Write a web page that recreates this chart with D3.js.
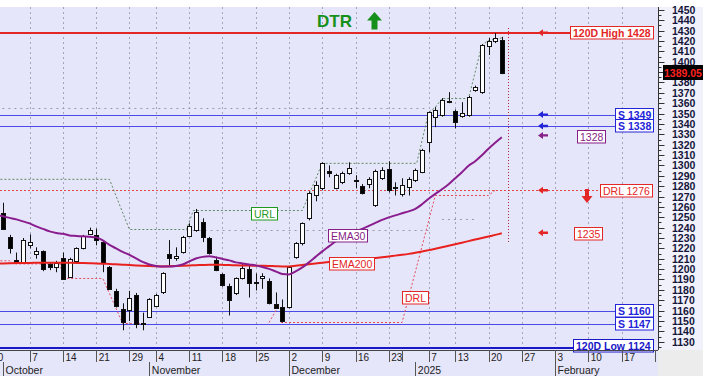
<!DOCTYPE html>
<html>
<head>
<meta charset="utf-8">
<script src="https://cdn.jsdelivr.net/npm/d3@7/dist/d3.min.js"></script>
<style>
  body { margin: 0; background: #fff; }
  svg { display: block; font-family: Arial, "Liberation Sans", sans-serif; }
</style>
</head>
<body>
<svg id="chart" width="703" height="390"></svg>
<script>
// ---- data (trading-day index, 0 = 30 Sep) ----
var candleDays = d3.range(1, 77);
var opens = [1254,1231,1209,1207,1223,1214,1217,1205,1202,1211, 1193,1207,1220,1234.5,1232.5,1226,1202,1179,1162,1160,
  1175.5,1147.5,1154,1165,1177.5,1215,1211,1216,1232.5,1237.3, 1245,1229.6,1208.4,1195,1184,1176.5,1191,1199.7,1188,1191,
  1189,1166.8,1163,1163,1211,1224.8,1248.9,1271,1278,1294.4, 1278,1283.7,1292.5,1284.7,1279.9,1281.8,1261.5,1287.6,1296.3,1279,
  1272,1279,1285.7,1293.4,1322.4,1346.6,1348.5,1361,1352.3,1347.5, 1348.5,1372.6,1370.7,1415.1,1420,1421];
var highs = [1264,1233,1216,1230,1233.5,1221,1218,1206.5,1208,1216, 1211,1221,1233,1240,1239,1228,1203,1181,1167,1179,
  1177,1158,1172,1176,1197,1228,1221,1232,1244,1258, 1249,1231,1212,1196,1186,1192,1205.5,1203.6,1195.8,1196,
  1191,1177.5,1170.7,1203,1226,1245,1275,1284.7,1303,1300, 1292,1294,1303,1290.5,1282,1288.6,1296,1298.2,1304,1283.7,
  1287.6,1288.6,1297,1316,1352,1356.2,1364.9,1370.7,1354,1361, 1367,1377,1417,1422.9,1427.7,1424];
var lows = [1238,1215,1206,1206,1220,1210,1198,1199,1197,1190, 1192,1206,1219,1233,1223,1197,1180,1163,1141,1150,
  1143,1141,1153,1164,1176,1203.5,1208,1215,1231,1236, 1226,1214,1198,1183,1155.3,1175,1190,1172.6,1179.4,1181,
  1166,1162,1148.5,1162,1210,1222.9,1247,1265.4,1276,1288.6, 1277,1282,1291,1278,1272,1278,1260,1286,1274,1271,
  1270,1271,1284,1292.5,1312.7,1336.9,1347,1360,1335.9,1346, 1347,1371,1369,1406.5,1418,1388];
var closes = [1239,1220,1207,1228,1226,1217,1200,1202,1206,1191, 1210,1220,1232,1238,1228,1205.6,1181,1165,1149.5,1172,
  1147.5,1148.5,1171,1175.5,1196,1211,1213,1230.6,1242,1254.8, 1230.6,1215,1198.7,1184,1170.7,1191,1200.7,1186,1187,1193,
  1167.8,1163,1149.5,1201.6,1224.8,1244.2,1273.1,1280.8,1302.1,1292.5, 1290.5,1292.5,1297.3,1285.7,1273.1,1286.6,1294.4,1295.3,1276,1278,
  1280.8,1286.6,1295.3,1314.7,1351.4,1353.3,1363,1362,1341.7,1350.4, 1365.9,1375.5,1416.1,1420,1422.9,1389.05];

// EMA lines, index 0..76
var ema30 = [1252.3,1250.9,1249.4,1248,1246,1244.1,1241.2,1238.8,1236.4,1234.9,
  1234,1232.5,1232,1231.6,1231.1,1230.6,1227.7,1223.4,1220,1216.6,
  1213.7,1210.3,1206.9,1204.5,1203.1,1202.6,1202.6,1203.1,1204.5,1207.4,
  1210.3,1211.8,1212.3,1211.3,1209.8,1208.4,1206.5,1205.5,1204.5,1203.6,
  1202.1,1200.2,1197.8,1195.3,1194.9,1197.8,1201.6,1206.5,1211.8,1217.1,
  1221.9,1226.7,1230.6,1233.5,1236.4,1238.8,1241.7,1244.6,1247.5,1249.9,
  1251.8,1253.8,1255.7,1258.1,1262.5,1267.8,1272.6,1277,1281.8,1287.6,
  1293.4,1299.7,1304,1309.8,1316.1,1321.9,1327.2];
var ema200 = [1205.5,1205.5,1205.6,1205.8,1206,1206,1206.1,1206.2,1206.2,1206.2,
  1206.2,1206.1,1206,1205.9,1205.7,1205.5,1205.2,1204.9,1204.6,1204.3,
  1204,1203.6,1203.2,1202.9,1202.7,1202.6,1202.8,1203,1203.3,1203.6,
  1203.8,1204,1204.2,1204.2,1204.1,1203.9,1203.7,1203.5,1203.4,1203.3,
  1203.2,1203,1202.8,1202.6,1202.6,1203.2,1204,1204.8,1205.5,1206.2,
  1206.8,1207.3,1207.8,1208.3,1208.8,1209.4,1210,1210.7,1211.4,1212.2,
  1213,1213.8,1214.7,1215.8,1217,1218.3,1219.6,1221,1222.5,1224,
  1225.5,1227,1228.5,1230,1231.5,1233,1234.5];

// step lines (corner points)
var urlIdx = [0, 17, 20, 28.6, 29.6, 46, 49, 63.2, 65, 66, 67, 71, 73, 74, 76];
var urlVal = [1286.6, 1286.6, 1238.2, 1238.2, 1256.5, 1256.5, 1302, 1302, 1351, 1356, 1364.5, 1364.5, 1416, 1420.5, 1423];
var drlIdx = [0, 2, 2.6, 9.6, 10, 16, 19, 22.5, null, 41, 42.3, null, 42.8, 61, 66, 74, 75];
var drlVal = [1208, 1208, 1205, 1205, 1191, 1191, 1147.5, 1147.5, null, 1148.5, 1163, null, 1148.5, 1148.5, 1271, 1271, 1276];
var oldLevelVal = [1355.3, 1238.2, 1248];
var oldLevelFrom = [0, 28.6, 67];
var oldLevelTo = [64.5, 65, 72];

// levels
var hiLowVals = [1428, 1124];
var hiLowText = ["120D High 1428", "120D Low 1124"];
var supVals = [1349, 1338, 1160, 1147];
var drlLevel = 1276;
var ema30Last = 1328;
var ema200Last = 1235;

// x axis
var tickIdx = [-1, 5, 10, 15, 20, 24, 29, 34, 39, 44, 49, 54, 59, 61, 65, 69, 74, 79, 84, 89, 94, 99];
var tickLbl = ["30","7","14","21","29","4","11","18","25","2","9","16","23","","7","13","20","27","3","10","17",""];
var monthIdx = [1, 23, 44, 63, 84];
var monthLbl = ["October", "November", "December", "2025", "February"];
var todayIdx = 77;

// ---- chart ----
var W = 703, H = 390;
var L = 0, R = 658, T = 7, B = 350;
var svg = d3.select("#chart");

var x = d3.scaleLinear().domain([0, 99]).range([-3.6, 654.75]);
var y = d3.scaleLinear().domain([1121.5, 1452.8]).range([350.5, 7]);

var RED = "#e32626", BLUE = "#2424d8", PURPLE = "#861f86", GREEN = "#1f9a1f";

svg.append("rect").attr("width", W).attr("height", H).attr("fill", "#fff");
svg.append("rect").attr("x", L).attr("y", T).attr("width", R - L).attr("height", B - T).attr("fill", "#e6e6fa");
svg.append("rect").attr("x", R).attr("y", T).attr("width", W - R).attr("height", B - T).attr("fill", "#f1f1fb");
svg.append("rect").attr("x", L).attr("y", B).attr("width", R - L).attr("height", 26).attr("fill", "#e6e6fa");
svg.append("rect").attr("x", R).attr("y", B).attr("width", W - R).attr("height", 26).attr("fill", "#ececec");

svg.append("defs").append("clipPath").attr("id", "plotClip")
  .append("rect").attr("x", L).attr("y", T).attr("width", R - L).attr("height", B - T);
var g = svg.append("g").attr("clip-path", "url(#plotClip)");

function px(v) { return Math.round(v) + 0.5; }

// vertical grid
g.selectAll("line.vgrid").data(tickIdx.filter(function (d, i) { return tickLbl[i] !== "" && d > 0; }))
  .join("line").attr("class", "vgrid")
  .attr("x1", function (d) { return px(x(d)); }).attr("x2", function (d) { return px(x(d)); })
  .attr("y1", T).attr("y2", B)
  .attr("stroke", "#a4a4bc").attr("stroke-dasharray", "2,3");

// old levels (gray dotted)
g.selectAll("line.old").data(oldLevelVal).join("line").attr("class", "old")
  .attr("x1", function (d, i) { return x(oldLevelFrom[i]); })
  .attr("x2", function (d, i) { return x(oldLevelTo[i]); })
  .attr("y1", function (d) { return px(y(d)); }).attr("y2", function (d) { return px(y(d)); })
  .attr("stroke", "#9a9aa8").attr("stroke-dasharray", "2,4");

// label box helper
function tag(parent, text, opt) {
  var size = opt.size || 10;
  var t = parent.append("text")
    .attr("font-size", size + "px")
    .attr("font-weight", opt.bold ? "bold" : "normal")
    .attr("fill", opt.color).text(text);
  var w = t.node().getComputedTextLength();
  var bw = w + 5, bh = size + 2;
  var x0 = opt.anchor === "end" ? opt.x - bw : (opt.anchor === "middle" ? opt.x - bw / 2 : opt.x);
  x0 = Math.round(x0) + 0.5;
  var y0 = Math.round(opt.yc - bh / 2) + 0.5;
  parent.insert("rect", function () { return t.node(); })
    .attr("x", x0).attr("y", y0).attr("width", Math.round(bw)).attr("height", bh)
    .attr("fill", "#fff").attr("stroke", opt.color);
  t.attr("x", x0 + 2.5).attr("y", y0 + bh / 2 + size * 0.36);
  return x0;
}

// left-pointing arrow helper
function leftArrow(parent, ax, ay, color) {
  parent.append("path")
    .attr("d", "M" + ax + "," + ay + "l5,-3.5v2.3h5v2.4h-5v2.3z")
    .attr("fill", color);
}

var ann = svg.append("g");

// horizontal level lines + boxes
var hiLowColor = [RED, "#1818c8"];
hiLowVals.forEach(function (v, i) {
  var yc = i === 0 ? y(v) : y(v) - 3;
  var bx = tag(ann, hiLowText[i], { x: 653, yc: yc, anchor: "end", color: hiLowColor[i], bold: true, size: 10.5 });
  g.append("line").attr("x1", L).attr("x2", bx)
    .attr("y1", Math.round(y(v))).attr("y2", Math.round(y(v)))
    .attr("stroke", hiLowColor[i]).attr("stroke-width", 2);
});
supVals.forEach(function (v) {
  var bx = tag(ann, "S " + v, { x: 653, yc: y(v) - 0.5, anchor: "end", color: BLUE, bold: true, size: 10.5 });
  g.append("line").attr("x1", L).attr("x2", bx)
    .attr("y1", px(y(v))).attr("y2", px(y(v)))
    .attr("stroke", "#4a4ae8").attr("stroke-width", 1);
});
// DRL level
var drlBox = tag(ann, "DRL " + drlLevel, { x: 652, yc: y(drlLevel), anchor: "end", color: RED, size: 10.5 });
g.append("line").attr("x1", L).attr("x2", drlBox)
  .attr("y1", px(y(drlLevel))).attr("y2", px(y(drlLevel)))
  .attr("stroke", "#e04848").attr("stroke-dasharray", "2,2");
tag(ann, String(ema30Last), { x: 577, yc: y(ema30Last), color: PURPLE, size: 10.5 });
tag(ann, String(ema200Last), { x: 574, yc: y(ema200Last), color: RED, size: 10.5 });

// URL / DRL step lines
var stepLine = d3.line()
  .defined(function (d) { return d[0] !== null; })
  .x(function (d) { return x(d[0]); }).y(function (d) { return y(d[1]); });
g.append("path").datum(urlIdx.map(function (d, i) { return [d, urlVal[i]]; }))
  .attr("d", stepLine).attr("fill", "none")
  .attr("stroke", "#5f8a62").attr("stroke-dasharray", "2,2");
g.append("path").datum(drlIdx.map(function (d, i) { return [d, drlVal[i]]; }))
  .attr("d", stepLine).attr("fill", "none")
  .attr("stroke", "#e24a5a").attr("stroke-dasharray", "2,2");

// candles
var candles = candleDays.map(function (d, i) {
  return { d: d, o: opens[i], h: highs[i], l: lows[i], c: closes[i] };
});
g.selectAll("line.wick").data(candles).join("line").attr("class", "wick")
  .attr("x1", function (d) { return px(x(d.d)); }).attr("x2", function (d) { return px(x(d.d)); })
  .attr("y1", function (d) { return y(d.h); }).attr("y2", function (d) { return y(d.l); })
  .attr("stroke", "#111");
g.selectAll("rect.body").data(candles).join("rect").attr("class", "body")
  .attr("x", function (d) { return Math.round(x(d.d)) - 1.5; })
  .attr("width", 4)
  .attr("y", function (d) { return Math.round(y(Math.max(d.o, d.c))) + 0.5; })
  .attr("height", function (d) { return Math.max(1, Math.round(Math.abs(y(d.o) - y(d.c)))); })
  .attr("fill", function (d) { return d.c < d.o ? "#000" : "#fff"; })
  .attr("stroke", "#111");

// EMA lines
var emaLine = d3.line().curve(d3.curveMonotoneX)
  .x(function (d, i) { return x(i); }).y(function (d) { return y(d); });
g.append("path").datum(ema200).attr("d", emaLine).attr("fill", "none")
  .attr("stroke", "#e8211f").attr("stroke-width", 2);
g.append("path").datum(ema30).attr("d", emaLine).attr("fill", "none")
  .attr("stroke", "#8a1d8e").attr("stroke-width", 2);

// today marker
g.append("line").attr("x1", px(x(todayIdx))).attr("x2", px(x(todayIdx)))
  .attr("y1", 28).attr("y2", y(ema200Last) + 10)
  .attr("stroke", "#b02a40").attr("stroke-dasharray", "1,2");

// in-chart tags
tag(ann, "URL", { x: x(40.2), yc: y(urlVal[4]) + 2.5, anchor: "middle", color: GREEN, size: 10.5 });
tag(ann, "EMA30", { x: x(52.8), yc: y(ema30[53]) + 1, anchor: "middle", color: PURPLE, size: 10.5 });
tag(ann, "EMA200", { x: x(53.4), yc: y(ema200[53]) + 2.5, anchor: "middle", color: RED, size: 10.5 });
tag(ann, "DRL", { x: x(63), yc: y(1172.5), anchor: "middle", color: RED, size: 10.5 });

// arrows at the right
var arrowX = 538;
leftArrow(ann, arrowX, y(hiLowVals[0]), RED);
leftArrow(ann, arrowX, y(supVals[0]), BLUE);
leftArrow(ann, arrowX, y(supVals[1]), BLUE);
leftArrow(ann, arrowX, y(ema30Last) - 1, PURPLE);
leftArrow(ann, arrowX, y(drlLevel), RED);
leftArrow(ann, arrowX, y(ema200Last), RED);
// red down arrow
ann.append("path").attr("d", "M585,189h4v7h3.5l-5.5,7l-5.5,-7h3.5z").attr("fill", RED);

// DTR title + green up arrow
svg.append("text").attr("x", 317).attr("y", 27).attr("font-size", "17px")
  .attr("font-weight", "bold").attr("fill", "#17901b").text("DTR");
svg.append("path").attr("d", "M374.5,12l7.5,8.5h-4.5v9h-6v-9h-4.5z").attr("fill", "#17901b");

// right axis
var lastClose = closes[closes.length - 1];
var yAxis = svg.append("g").attr("transform", "translate(" + (R + 0.5) + ",0)");
yAxis.append("line").attr("y1", T).attr("y2", B).attr("stroke", "#333");
yAxis.selectAll("line.tk").data(d3.range(1125, 1451, 5)).join("line").attr("class", "tk")
  .attr("x1", 0).attr("x2", function (d) { return d % 10 === 0 ? 6 : 3; })
  .attr("y1", function (d) { return px(y(d)); }).attr("y2", function (d) { return px(y(d)); })
  .attr("stroke", "#333");
// the label right behind the last-price box is not drawn (it is hidden there)
yAxis.selectAll("text").data(d3.range(1130, 1451, 10).filter(function (d) { return Math.abs(d - lastClose) > 5; }))
  .join("text")
  .attr("x", 13.5).attr("y", function (d) { return y(d) + 4; })
  .attr("font-size", "10.5px").attr("font-weight", "bold").attr("fill", "#15153a")
  .text(function (d) { return d; });

// last price box
svg.append("rect").attr("x", 663).attr("y", Math.round(y(lastClose)) - 8).attr("width", 40).attr("height", 15).attr("fill", "#000");
svg.append("text").attr("x", 664).attr("y", Math.round(y(lastClose)) + 3.5)
  .attr("font-size", "10.5px").attr("font-weight", "bold").attr("fill", "#ff2020")
  .text(lastClose.toFixed(2));

// x axis band
var xa = svg.append("g");
xa.append("line").attr("x1", 0).attr("x2", R).attr("y1", B + 0.5).attr("y2", B + 0.5).attr("stroke", "#444");
xa.selectAll("line.dt").data(tickIdx).join("line").attr("class", "dt")
  .attr("x1", function (d) { return px(x(d)); }).attr("x2", function (d) { return px(x(d)); })
  .attr("y1", B).attr("y2", B + 12).attr("stroke", "#555");
xa.selectAll("text.dl").data(tickIdx).join("text").attr("class", "dl")
  .attr("x", function (d) { return x(d) + 2.5; }).attr("y", B + 10.5)
  .attr("font-size", "10px").attr("fill", "#222")
  .text(function (d, i) { return tickLbl[i]; });
xa.selectAll("line.ms").data(monthIdx).join("line").attr("class", "ms")
  .attr("x1", function (d) { return px(x(d)); }).attr("x2", function (d) { return px(x(d)); })
  .attr("y1", B + 12).attr("y2", B + 26).attr("stroke", "#555");
xa.selectAll("text.ml").data(monthIdx).join("text").attr("class", "ml")
  .attr("x", function (d) { return x(d) + 2.5; }).attr("y", B + 23.5)
  .attr("font-size", "10.5px").attr("fill", "#222")
  .text(function (d, i) { return monthLbl[i]; });
</script>
</body>
</html>
